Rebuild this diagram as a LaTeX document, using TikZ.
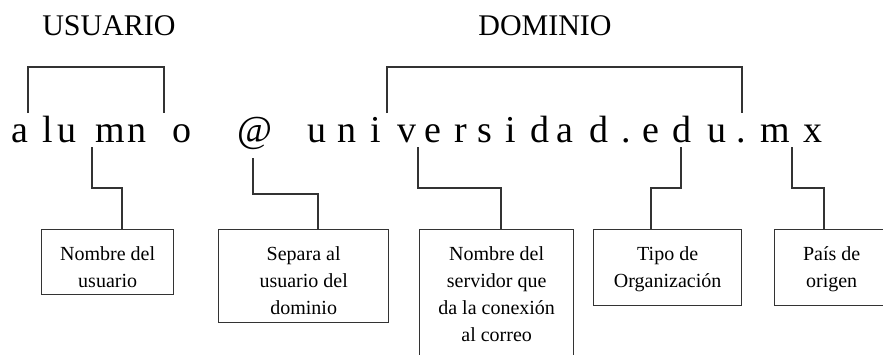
\documentclass[tikz,border=0pt]{standalone}
\usepackage{fontspec}
\setmainfont{Liberation Serif}
\usepackage{tikz}
\usetikzlibrary{positioning}
\tikzset{conector/.style={draw=black!80,line width=1pt}}
\tikzset{caja/.style={draw=black!80,line width=1pt,inner sep=0pt,anchor=north west,
        font=\fontsize{15pt}{20.25pt}\selectfont}}
\newcommand{\cajatexto}[3]{\parbox[t][#2][t]{#1}{\centering\rule{0pt}{23.25pt}#3}}

\begin{document}
\begin{tikzpicture}[x=0.75pt,y=-0.75pt,
        letra/.style={anchor=base,inner sep=0pt,font=\fontsize{28.5pt}{30pt}\selectfont},
        titulo/.style={anchor=base,inner sep=0pt,font=\fontsize{22.5pt}{24pt}\selectfont}]
                \useasboundingbox (0,0) rectangle (883,354);
                \clip (0,0) rectangle (883,354);
                % titulos
                \node[titulo] (usuario) at (109,35) {USUARIO};
                \node[titulo] (dominio) at (545,35) {DOMINIO};
                % direccion, letra por letra
                \foreach \ch/\px [count=\i] in {a/20,l/48,u/67,m/110,n/137,o/182,@/255,
                        u/317,n/347,i/376,v/407,e/433,r/461,s/485,i/511,d/540,a/565,
                        d/599,./626,e/651,d/682,u/717,./741,m/775,x/813}
                        \node[letra] (c\i) at (\px,142) {\ch};
                % llaves
                \coordinate (uL) at (28,113);
                \coordinate (uR) at (164,113);
                \coordinate (dL) at (387,113);
                \coordinate (dR) at (742,113);
                \draw[conector] (uL) -- ++(0,-46) -| (uR);
                \draw[conector] (dL) -- ++(0,-46) -| (dR);
                % cajas
                \node[caja] (b1) at (41,229)  {\cajatexto{99pt}{48.75pt}{Nombre del\\usuario}};
                \node[caja] (b2) at (218,229) {\cajatexto{127.5pt}{69.75pt}{Separa al\\usuario del\\dominio}};
                \node[caja] (b3) at (419,229) {\cajatexto{115.5pt}{101.25pt}{Nombre del\\servidor que\\da la conexión\\al correo}};
                \node[caja] (b4) at (593,229) {\cajatexto{111pt}{57pt}{Tipo de\\Organización}};
                \node[caja] (b5) at (774,229) {\cajatexto{85.5pt}{57pt}{País de\\origen}};
                % conectores
                \coordinate (s1) at (92,147);  \coordinate (j1) at (122,188);
                \coordinate (s2) at (253,158); \coordinate (j2) at (318,194);
                \coordinate (s3) at (418,147); \coordinate (j3) at (501,188);
                \coordinate (s4) at (681,147); \coordinate (j4) at (651,188);
                \coordinate (s5) at (792,147); \coordinate (j5) at (824,188);
                \foreach \k in {1,...,5}
                        \draw[conector] (s\k) |- (j\k) -- (j\k |- b\k.north);
\end{tikzpicture}
\end{document}
